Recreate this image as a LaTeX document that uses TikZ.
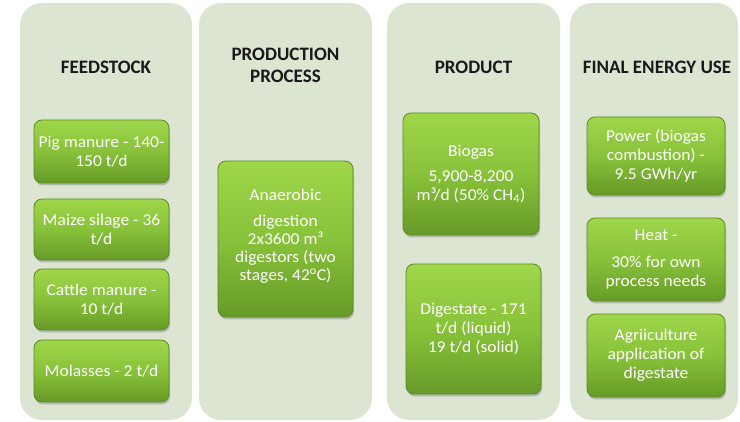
\documentclass[tikz,border=0pt]{standalone}
\usepackage{fontspec}
\setmainfont{Carlito}
\newfontfamily\boxfont{Carlito}[FakeStretch=1.06]
\usetikzlibrary{shadows}
\definecolor{panelc}{HTML}{DBE5D1}
\definecolor{gtop}{HTML}{9FD64A}
\definecolor{gmid}{HTML}{88C23A}
\definecolor{gbot}{HTML}{679A28}
\definecolor{gborder}{HTML}{5B8A24}
\tikzset{
  panel/.style={rectangle, fill=panelc, rounded corners=22pt, draw=none, inner sep=0pt},
  hdr/.style={font=\fontsize{19}{22}\selectfont\bfseries, text=black!90, align=center, inner sep=0pt},
  gbox/.style={rectangle, rounded corners=8pt, draw=gborder, line width=0.8pt,
    top color=gtop, bottom color=gbot, middle color=gmid, text=white,
    font=\boxfont\fontsize{16.5}{19}\selectfont, align=center, inner sep=0pt,
    drop shadow={shadow xshift=1pt, shadow yshift=-2.5pt, opacity=0.45}},
}
\begin{document}
\begin{tikzpicture}[x=1pt,y=-1pt]
\useasboundingbox (0,0) rectangle (740,422);
% panels
\node[panel, minimum width=172pt, minimum height=417pt] (p1) at (106,211.5) {};
\node[panel, minimum width=173pt, minimum height=417pt] (p2) at (285.5,211.5) {};
\node[panel, minimum width=173pt, minimum height=417pt] (p3) at (473.5,211.5) {};
\node[panel, minimum width=168pt, minimum height=417pt] (p4) at (654,211.5) {};
% headers
\node[hdr] (h1) at (106,67) {FEEDSTOCK};
\node[hdr] (h2) at (285.5,65) {PRODUCTION\\PROCESS};
\node[hdr] (h3) at (473.5,67) {PRODUCT};
\node[hdr] (h4) at (657,67) {FINAL ENERGY USE};
% feedstock
\node[gbox, minimum width=135pt, minimum height=63pt] (pig) at (101.5,151.5) {Pig manure - 140-\\150 t/d};
\node[gbox, minimum width=135pt, minimum height=61pt] (maize) at (101.5,229.5) {Maize silage - 36\\t/d};
\node[gbox, minimum width=135pt, minimum height=61pt] (cattle) at (101.5,299.5) {Cattle manure -\\10 t/d};
\node[gbox, minimum width=135pt, minimum height=62pt] (mol) at (101.5,371) {Molasses - 2 t/d};
% process
\node[gbox, minimum width=135pt, minimum height=156pt] (ad) at (285.5,239) {Anaerobic\\[7pt]digestion\\[-1pt]2x3600 m³\\[-1pt]digestors (two\\[-1pt]stages, 42\textsuperscript{o}C)\\[-11pt]\mbox{}};
% product
\node[gbox, minimum width=136pt, minimum height=122pt] (bio) at (471,174) {Biogas\\[6pt]5,900-8,200\\m³/d (50\% CH\textsubscript{4})};
\node[gbox, minimum width=135pt, minimum height=130pt] (dig) at (473.5,329) {Digestate - 171\\t/d (liquid)\\19 t/d (solid)};
% final use
\node[gbox, minimum width=138pt, minimum height=78pt] (pow) at (656,156) {Power (biogas\\combustion) -\\9.5 GWh/yr};
\node[gbox, minimum width=138pt, minimum height=83pt] (heat) at (656,259.5) {Heat -\\[8pt]30\% for own\\process needs};
\node[gbox, minimum width=138pt, minimum height=83pt] (agri) at (656,355.5) {Agriiculture\\application of\\digestate};
\end{tikzpicture}
\end{document}
